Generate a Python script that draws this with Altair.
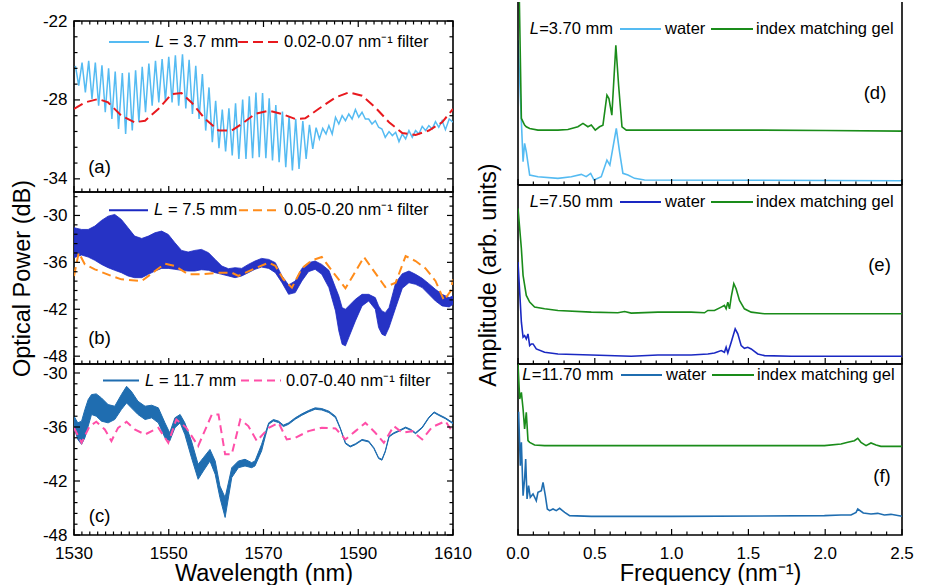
import altair as alt
import pandas as pd
import numpy as np

FONT = "Liberation Sans"
ONE = pd.DataFrame({"d": [0]})

# ---------------- panel (a) : L = 3.7 mm ----------------
lam_a = [1530.3, 1531.0, 1531.7, 1532.4, 1533.1, 1533.8, 1534.5, 1535.2, 1535.9, 1536.6,
         1537.3, 1538.0, 1538.7, 1539.4, 1540.2, 1540.9, 1541.6, 1542.3, 1543.0, 1543.7,
         1544.4, 1545.1, 1545.8, 1546.5, 1547.2, 1547.9, 1548.6, 1549.3, 1550.0, 1550.7,
         1551.4, 1552.1, 1552.9, 1553.6, 1554.3, 1555.0, 1555.7, 1556.4, 1557.1, 1557.8,
         1558.5, 1559.2, 1559.9, 1560.6, 1561.3, 1562.0, 1562.7, 1563.4, 1564.1, 1564.8,
         1565.6, 1566.3, 1567.0, 1567.7, 1568.4, 1569.1, 1569.8, 1570.5, 1571.2, 1571.9,
         1572.6, 1573.3, 1574.0, 1574.7, 1575.4, 1576.1, 1576.8, 1577.5, 1578.3, 1579.0,
         1579.7, 1580.4, 1581.1, 1581.8, 1582.5, 1583.2,
         1583.8, 1584.5, 1585.2, 1585.9, 1586.6, 1587.3, 1588.0, 1588.7, 1589.4, 1590.1,
         1590.8, 1591.5, 1592.2, 1592.9, 1593.6, 1594.3, 1595.0, 1595.7, 1596.5, 1597.2,
         1597.9, 1598.6, 1599.3, 1600.0, 1600.7, 1601.4, 1602.1, 1602.8, 1603.5, 1604.2,
         1604.9, 1605.6, 1606.3, 1607.0, 1607.7, 1608.4, 1609.2, 1610.0]
pow_a = [-25.41, -26.92, -25.16, -27.43, -25.03, -27.93, -25.16, -28.44, -25.36, -28.94,
         -25.59, -29.45, -25.84, -30.21, -25.96, -30.59, -25.91, -30.33, -25.74, -29.70,
         -25.48, -28.94, -25.23, -28.44, -25.03, -28.19, -24.90, -28.06, -24.73, -28.19,
         -24.60, -28.44, -24.53, -28.64, -24.95, -29.07, -25.41, -29.45, -26.04, -30.33,
         -27.05, -31.22, -28.06, -31.67, -28.74, -31.92, -28.64, -32.23, -28.26, -32.48,
         -27.98, -32.48, -27.73, -32.43, -27.43, -32.35, -27.48, -32.43, -27.88, -32.61,
         -28.39, -32.73, -28.89, -33.11, -29.25, -33.36, -29.45, -33.24, -29.60, -32.48,
         -29.90, -31.72, -30.11, -30.96, -30.16, -30.59,
         -29.95, -30.59, -29.32, -29.83, -29.20, -29.58, -29.07, -29.45, -28.74, -29.32,
         -28.94, -29.45, -29.45, -29.83, -29.58, -30.08, -30.21, -30.84, -30.41, -30.71,
         -30.46, -31.17, -30.59, -30.96, -30.33, -30.84, -30.33, -30.59, -30.01, -30.33,
         -29.95, -30.21, -29.65, -30.08, -29.58, -30.26, -29.45, -29.70]
lam_a_filt = [1530.0, 1532.3, 1535.1, 1537.2, 1540.0, 1542.8, 1545.0, 1547.8, 1550.6, 1552.7,
              1554.8, 1557.7, 1560.5, 1563.3, 1565.4, 1568.2, 1571.1, 1573.9, 1576.7, 1578.8,
              1581.6, 1585.2, 1588.0, 1590.8, 1593.6, 1596.5, 1599.3, 1602.1, 1604.9, 1607.7, 1610.0]
pow_a_filt = [-28.69, -28.19, -27.93, -28.19, -29.20, -29.70, -29.58, -28.69, -27.56, -27.48,
              -28.19, -29.45, -30.33, -30.33, -29.83, -29.07, -28.82, -29.07, -29.45, -29.40,
              -28.69, -27.81, -27.43, -27.68, -28.57, -29.70, -30.51, -30.66, -30.33, -29.70, -28.69]

# ---------------- panel (b) : L = 7.5 mm (dense fringes: envelope) ----------------
lam_b = [1530.0, 1531.6, 1533.0, 1534.4, 1535.8, 1537.2, 1538.6, 1540.0, 1541.4, 1542.8,
         1544.3, 1545.7, 1547.1, 1548.5, 1549.9, 1551.3, 1552.7, 1554.1, 1555.5, 1556.9,
         1558.4, 1559.8, 1561.2, 1562.6, 1564.0, 1565.4, 1566.8, 1568.2, 1569.6, 1571.1,
         1572.5, 1573.9, 1575.3, 1576.7, 1578.1, 1579.5, 1580.9, 1582.3, 1583.8, 1585.2,
         1585.9, 1586.6, 1587.3, 1588.0, 1589.4, 1590.8, 1592.2, 1593.6, 1594.3, 1595.0,
         1595.7, 1596.5, 1597.9, 1599.3, 1600.7, 1602.1, 1603.5, 1604.9, 1606.3, 1607.7,
         1609.2, 1610.0]
hi_b = [-31.57, -31.79, -31.79, -31.36, -30.64, -30.09, -29.87, -30.51, -31.57, -32.64,
        -32.94, -32.64, -32.21, -32.00, -32.43, -33.49, -34.47, -34.68, -34.47, -34.34,
        -34.77, -35.62, -36.47, -36.81, -36.68, -36.77, -36.26, -35.83, -35.49, -35.62,
        -36.04, -37.74, -38.89, -38.38, -36.77, -36.04, -35.83, -36.26, -37.02, -39.23,
        -40.30, -41.79, -42.00, -41.57, -40.72, -40.09, -40.09, -40.51, -41.57, -42.21,
        -42.43, -41.79, -38.60, -37.45, -37.11, -37.53, -38.04, -38.72, -39.45, -40.09,
        -40.51, -40.30]
lo_b = [-35.40, -35.06, -35.32, -35.74, -36.26, -36.68, -37.02, -37.32, -37.74, -37.96,
        -37.96, -37.53, -37.11, -36.77, -36.77, -36.89, -37.02, -37.11, -37.11, -36.94,
        -37.02, -37.32, -37.53, -37.74, -37.96, -37.74, -37.32, -36.89, -36.60, -36.77,
        -37.32, -38.60, -40.09, -39.87, -38.38, -37.19, -36.89, -37.53, -39.23, -42.21,
        -44.77, -46.47, -46.68, -45.62, -43.49, -41.57, -40.94, -42.00, -44.34, -45.19,
        -45.40, -44.34, -41.79, -39.32, -38.60, -38.81, -39.23, -40.09, -40.94, -41.57,
        -41.70, -41.36]
lam_b_filt = [1530.0, 1531.0, 1532.3, 1534.4, 1537.9, 1540.0, 1544.3, 1547.1, 1549.2, 1551.3,
              1554.1, 1556.9, 1560.5, 1563.3, 1564.7, 1568.2, 1571.1, 1572.5, 1574.2, 1576.0,
              1578.1, 1580.2, 1582.3, 1584.5, 1587.3, 1589.4, 1591.2, 1592.9, 1595.7, 1597.9,
              1600.0, 1602.1, 1604.2, 1606.3, 1608.1, 1609.5, 1610.0]
pow_b_filt = [-37.74, -34.77, -36.26, -36.89, -37.74, -38.17, -38.38, -37.11, -36.17, -36.47,
              -37.53, -37.53, -37.32, -37.32, -37.74, -36.77, -36.04, -36.43, -38.17, -39.23,
              -36.77, -35.74, -35.32, -37.11, -39.32, -37.19, -35.32, -36.77, -39.15, -38.60,
              -35.19, -35.83, -36.77, -38.38, -40.85, -39.66, -38.17]

# ---------------- panel (c) : L = 11.7 mm ----------------
lam_c = [1530.0, 1530.8, 1531.6, 1532.3, 1533.0, 1533.7, 1534.7, 1535.8, 1537.2, 1538.6,
         1540.0, 1541.1, 1542.1, 1543.5, 1545.0, 1546.4, 1547.8, 1549.2, 1550.2, 1551.3,
         1552.4, 1553.4, 1554.8, 1556.2, 1557.3, 1558.7, 1559.8, 1560.8, 1561.9, 1563.3,
         1564.7, 1566.1, 1567.5, 1568.2, 1569.6, 1570.4, 1571.1, 1572.1, 1573.2, 1574.2,
         1575.3, 1576.7, 1578.1, 1579.5, 1580.9, 1582.3, 1583.8, 1585.2, 1586.2, 1587.3,
         1588.3, 1589.4, 1590.8, 1592.2, 1593.3, 1594.3, 1595.0, 1595.7, 1596.5, 1597.5,
         1598.6, 1600.0, 1601.1, 1602.1, 1603.5, 1604.9, 1606.0, 1607.0, 1608.4, 1610.0]
hi_c = [-34.80, -35.54, -35.35, -34.06, -32.95, -32.40, -32.32, -32.77, -33.51, -33.69,
        -32.40, -31.48, -32.03, -33.14, -33.69, -33.58, -33.87, -35.54, -36.64, -34.98,
        -34.61, -35.54, -37.56, -40.15, -39.41, -38.49, -39.78, -42.55, -43.84, -40.52,
        -39.78, -39.59, -39.96, -39.78, -37.93, -36.64, -35.54, -35.17, -35.35, -35.79,
        -35.54, -34.98, -34.54, -34.17, -33.87, -33.95, -34.24, -34.80, -36.09, -37.75,
        -38.12, -37.86, -37.38, -37.56, -38.30, -39.41, -39.59, -38.67, -37.01, -36.64,
        -36.38, -36.01, -36.27, -36.64, -36.01, -34.91, -34.32, -34.61, -34.98, -35.54]
lo_c = [-36.09, -37.38, -37.93, -37.20, -35.90, -34.61, -34.80, -35.35, -35.54, -35.17,
        -34.06, -33.32, -33.87, -34.61, -35.17, -34.98, -35.54, -37.20, -37.56, -36.09,
        -35.54, -36.83, -39.41, -41.81, -40.89, -39.78, -41.25, -43.84, -46.05, -41.62,
        -40.52, -40.33, -40.52, -40.33, -38.67, -37.01, -35.70, -35.33, -35.51, -35.95,
        -35.70, -35.14, -34.70, -34.33, -34.03, -34.11, -34.40, -34.96, -36.19, -37.85,
        -38.22, -37.96, -37.48, -37.66, -38.40, -39.51, -39.69, -38.77, -37.11, -36.74,
        -36.48, -36.11, -36.37, -36.74, -36.11, -35.01, -34.42, -34.71, -35.08, -35.64]
lam_c_filt = [1530.0, 1531.6, 1533.3, 1534.7, 1536.5, 1537.9, 1539.3, 1541.1, 1542.8, 1545.0,
              1547.8, 1549.9, 1551.6, 1553.7, 1556.2, 1559.1, 1560.5, 1561.9, 1563.3, 1565.1,
              1566.8, 1568.6, 1571.1, 1573.2, 1574.9, 1576.7, 1579.5, 1582.3, 1585.2, 1587.3,
              1589.4, 1591.5, 1593.6, 1595.4, 1597.5, 1599.3, 1601.4, 1603.5, 1605.6, 1608.4, 1610.0]
pow_c_filt = [-36.09, -37.75, -35.90, -35.42, -36.27, -37.56, -36.09, -35.42, -36.27, -36.83,
              -36.09, -37.75, -35.17, -36.09, -38.12, -34.61, -34.61, -39.04, -39.04, -35.17,
              -35.90, -37.56, -36.09, -35.54, -37.38, -37.20, -36.46, -36.09, -36.16, -37.38,
              -36.46, -35.54, -36.64, -37.75, -35.90, -36.64, -36.46, -37.38, -36.01, -35.35, -36.64]

# ---------------- panel (d) : FFT, L = 3.70 mm ----------------
f_d_gel = [0.009, 0.022, 0.043, 0.054, 0.076, 0.130, 0.260, 0.325, 0.390, 0.423, 0.455, 0.477,
           0.503, 0.531, 0.553, 0.579, 0.592, 0.611, 0.637, 0.655, 0.677, 0.705, 1.0, 1.5, 2.0, 2.5]
a_d_gel = [55.0, 20.0, 18.0, 17.5, 17.0, 16.5, 16.5, 16.7, 17.5, 18.5, 17.5, 18.0,
           16.5, 17.5, 18.0, 27.0, 26.0, 21.0, 42.0, 30.0, 17.5, 16.5, 16.5, 16.5, 16.4, 16.2]
f_d_wat = [0.0, 0.033, 0.043, 0.054, 0.076, 0.130, 0.260, 0.347, 0.412, 0.444, 0.473, 0.495,
           0.542, 0.579, 0.598, 0.640, 0.661, 0.683, 0.716, 0.759, 0.824, 2.5]
a_d_wat = [43.5, 7.0, 12.5, 10.0, 3.0, 2.5, 2.0, 2.5, 3.2, 2.5, 3.5, 1.5,
           2.5, 7.5, 6.0, 17.0, 10.0, 3.5, 3.0, 2.0, 1.5, 1.3]

# ---------------- panel (e) : FFT, L = 7.50 mm ----------------
f_e_gel = [0.0, 0.022, 0.033, 0.054, 0.076, 0.108, 0.173, 0.260, 0.477, 0.650, 0.694, 0.737,
           0.911, 1.127, 1.214, 1.236, 1.279, 1.323, 1.344, 1.355, 1.366, 1.377, 1.388, 1.405,
           1.420, 1.442, 1.474, 1.518, 1.605, 2.5]
a_e_gel = [46.5, 34.5, 26.5, 20.5, 18.5, 17.0, 16.5, 16.0, 15.5, 15.3, 15.7, 15.2,
           15.5, 15.5, 15.3, 16.0, 16.0, 17.0, 17.5, 16.5, 18.5, 16.5, 20.0, 24.0,
           22.5, 19.0, 16.5, 15.5, 15.0, 15.0]
f_e_wat = [0.0, 0.011, 0.022, 0.033, 0.043, 0.054, 0.065, 0.076, 0.087, 0.098, 0.119, 0.173,
           0.260, 0.477, 0.737, 0.911, 1.127, 1.236, 1.279, 1.323, 1.344, 1.355, 1.366, 1.388,
           1.414, 1.431, 1.453, 1.474, 1.496, 1.518, 1.561, 1.605, 1.778, 2.5]
a_e_wat = [30.5, 21.5, 12.5, 8.0, 8.5, 7.5, 9.0, 5.5, 6.0, 6.0, 4.5, 3.5,
           3.0, 2.7, 2.3, 2.7, 2.7, 3.0, 3.3, 4.0, 3.5, 5.0, 3.3, 6.5,
           10.5, 9.0, 5.5, 4.7, 5.0, 4.5, 3.0, 2.5, 2.3, 2.3]

# ---------------- panel (f) : FFT, L = 11.70 mm ----------------
f_f_gel = [0.0, 0.011, 0.022, 0.033, 0.043, 0.054, 0.065, 0.076, 0.108, 0.173, 1.0, 1.995,
           2.103, 2.147, 2.190, 2.212, 2.233, 2.266, 2.298, 2.331, 2.363, 2.5]
a_f_gel = [51.3, 40.8, 42.8, 37.8, 31.8, 36.8, 28.3, 27.8, 27.0, 26.8, 26.8, 26.8,
           27.3, 27.8, 28.3, 29.0, 27.8, 26.8, 27.6, 27.0, 26.6, 26.6]
f_f_wat = [0.004, 0.015, 0.022, 0.033, 0.043, 0.050, 0.059, 0.069, 0.080, 0.098, 0.119, 0.130,
           0.152, 0.163, 0.178, 0.191, 0.206, 0.228, 0.249, 0.271, 0.304, 0.336, 0.477, 1.0,
           1.995, 2.103, 2.168, 2.201, 2.212, 2.248, 2.298, 2.342, 2.385, 2.428, 2.5]
a_f_wat = [37.0, 20.8, 27.8, 11.8, 16.8, 22.8, 10.8, 14.8, 11.3, 12.3, 10.3, 12.8,
           13.3, 15.8, 11.8, 7.8, 7.3, 7.8, 7.3, 8.0, 6.8, 5.8, 5.6, 5.6,
           5.8, 6.0, 6.0, 6.8, 7.8, 6.6, 6.3, 6.5, 6.0, 6.2, 5.6]

# ---------------- axis ticks and tick labels ----------------
wl_major = [1530, 1550, 1570, 1590, 1610]
wl_labels = ["1530", "1550", "1570", "1590", "1610"]
fr_major = [0.0, 0.5, 1.0, 1.5, 2.0, 2.5]
fr_labels = ["0.0", "0.5", "1.0", "1.5", "2.0", "2.5"]
ya_major = [-22, -28, -34]
yb_major = [-30, -36, -42, -48]
yc_major = [-30, -36, -42, -48]

# colours
C_A, C_A2 = "#55BBF2", "#E8191E"
C_B, C_B2 = "#1A28C2", "#FF8C1A"
C_C, C_C2 = "#1F6DB0", "#FF4FA8"
C_GEL = "#1A8C1A"

WL, WR = 379, 384
HA, HB, HC = 171, 172, 171
HD, HE, HF = 183, 179, 171
TOPGAP = 19
TMAJ, TMIN = 6, 3.5


def txt(s, x, y, size=16.5, italic=False, align="left"):
    return alt.Chart(ONE).mark_text(
        text=s, font=FONT, fontSize=size, fontStyle="italic" if italic else "normal",
        align=align, baseline="middle", color="black"
    ).encode(x=alt.value(x), y=alt.value(y))


def seg(x1, x2, y, color, width, dash=None):
    kw = dict(color=color, strokeWidth=width)
    if dash is not None:
        kw["strokeDash"] = dash
    return alt.Chart(ONE).mark_rule(**kw).encode(x=alt.value(x1), x2=alt.value(x2), y=alt.value(y))


def vseg(x, y1, y2, color, width):
    return alt.Chart(ONE).mark_rule(color=color, strokeWidth=width).encode(
        x=alt.value(x), y=alt.value(y1), y2=alt.value(y2))


def line(xs, ys, X, Y, color, width, dash=None):
    kw = dict(color=color, strokeWidth=width, clip=True)
    if dash is not None:
        kw["strokeDash"] = dash
    return alt.Chart(pd.DataFrame({"x": xs, "y": ys})).mark_line(**kw).encode(x=X, y=Y)


def band(xs, lo, hi, X, Y, color, width, op=1.0):
    df = pd.DataFrame({"x": xs, "y": lo, "y2": hi})
    return alt.Chart(df).mark_area(
        color=color, stroke=color, strokeWidth=width, fillOpacity=op, clip=True
    ).encode(x=X, y=Y, y2=alt.Y2("y2"))


def xlabels(vals, labs, X, H):
    df = pd.DataFrame({"x": vals, "lab": labs})
    return alt.Chart(df).mark_text(
        font=FONT, fontSize=17, color="black", align="center", baseline="middle"
    ).encode(x=X, y=alt.value(H + 19), text="lab:N")


def xticks(vals, X, H, L, top=False):
    df = pd.DataFrame({"x": vals})
    out = [alt.Chart(df).mark_rule(color="black", strokeWidth=1.2).encode(
        x=X, y=alt.value(H), y2=alt.value(H - L))]
    if top:
        out.append(alt.Chart(df).mark_rule(color="black", strokeWidth=1.2).encode(
            x=X, y=alt.value(0), y2=alt.value(L)))
    return out


def yticks(vals, Y, W, L):
    df = pd.DataFrame({"y": vals})
    return [
        alt.Chart(df).mark_rule(color="black", strokeWidth=1.2).encode(y=Y, x=alt.value(0), x2=alt.value(L)),
        alt.Chart(df).mark_rule(color="black", strokeWidth=1.2).encode(y=Y, x=alt.value(W), x2=alt.value(W - L)),
    ]


wl_minor = [v for v in np.round(np.arange(1530, 1610.001, 20 / 12), 3) if round(v, 3) not in wl_major]
fr_minor = [v for v in np.round(np.arange(0, 2.5001, 0.1), 2) if v not in fr_major]


def ymin(dom, start):
    vals = []
    v = start
    while v >= dom[0] - 1e-6:
        if v <= dom[1] + 1e-6:
            vals.append(round(v, 2))
        v -= 1.2
    return vals


AX = dict(labelFont=FONT, titleFont=FONT, labelFontSize=17, titleFontSize=23.5,
          labelColor="black", titleColor="black", titleFontWeight="normal",
          ticks=False, domain=False, grid=False, tickSize=0, labelFlush=False,
          labelOverlap=False)


def left_panel(H, ydom, ymaj, ymin_start, layers_fn, legend, label, lab_y, xlab=False, ytitle="", top=False):
    if xlab:
        xax = alt.Axis(values=wl_major, labels=False, title="Wavelength (nm)", titlePadding=26, **AX)
        X = alt.X("x:Q", scale=alt.Scale(domain=[1530, 1610], nice=False, zero=False), axis=xax)
    else:
        X = alt.X("x:Q", scale=alt.Scale(domain=[1530, 1610], nice=False, zero=False), axis=None)
    yax = alt.Axis(values=ymaj, labelExpr="datum.value + ''", labelPadding=7, title=ytitle,
                   labelBaseline="middle", titlePadding=8, **AX)
    Y = alt.Y("y:Q", scale=alt.Scale(domain=ydom, nice=False, zero=False), axis=yax)
    ys_min = [v for v in ymin(ydom, ymin_start) if v not in ymaj]
    layers = layers_fn(X, Y)
    layers += xticks(wl_major, X, H, TMAJ, top) + xticks(wl_minor, X, H, TMIN, top)
    layers += yticks(ymaj, Y, WL, TMAJ) + yticks(ys_min, Y, WL, TMIN)
    layers += legend + [txt(label, 25.5, lab_y, size=18.5, align="center")]
    if xlab:
        layers.append(xlabels(wl_major, wl_labels, X, H))
    return alt.layer(*layers).properties(width=WL, height=H)


def right_panel(H, ytop, layers_fn, legend, label, lx, ly, xlab=False, ytitle=None, open_top=False):
    if xlab:
        xax = alt.Axis(values=fr_major, labels=False, title="Frequency (nm\u207b\u00b9)",
                       titlePadding=26, **AX)
        X = alt.X("x:Q", scale=alt.Scale(domain=[0, 2.5], nice=False, zero=False), axis=xax)
    else:
        X = alt.X("x:Q", scale=alt.Scale(domain=[0, 2.5], nice=False, zero=False), axis=None)
    if ytitle:
        yax = alt.Axis(labels=False, title=ytitle, titlePadding=18, **AX)
        Y = alt.Y("y:Q", scale=alt.Scale(domain=[0, ytop], nice=False, zero=False), axis=yax)
    else:
        Y = alt.Y("y:Q", scale=alt.Scale(domain=[0, ytop], nice=False, zero=False), axis=None)
    layers = layers_fn(X, Y)
    layers += xticks(fr_major, X, H, TMAJ) + xticks(fr_minor, X, H, TMIN)
    layers += legend + [txt(label, lx, ly, size=18.5, align="center")]
    if xlab:
        layers.append(xlabels(fr_major, fr_labels, X, H))
    if open_top:
        layers += [vseg(0, 0, H, "black", 1.6), vseg(WR, 0, H, "black", 1.6),
                   seg(0, WR, H, "black", 1.6)]
        return alt.layer(*layers).properties(
            width=WR, height=H, view=alt.ViewBackground(stroke="transparent"))
    return alt.layer(*layers).properties(width=WR, height=H)


def leg_left(y, lx1, lx2, tx, name, color, dx1, dx2, ftx, ftext, fcolor, dash):
    return [
        seg(lx1, lx2, y, color, 2),
        txt("L", tx, y, italic=True),
        txt(name, tx + 14, y),
        seg(dx1, dx2, y, fcolor, 2, dash),
        txt(ftext, ftx, y),
    ]


def leg_right(y, lx, lname, wcolor, wx1):
    return [
        txt("L", lx, y, italic=True),
        txt(lname, lx + 9.5, y),
        seg(wx1, wx1 + 41, y, wcolor, 2),
        txt("water", wx1 + 45, y),
        seg(wx1 + 91, wx1 + 133, y, C_GEL, 2),
        txt("index matching gel", wx1 + 136, y),
    ]


spacer = alt.Chart(ONE).mark_point(opacity=0, size=1).encode(
    x=alt.value(10), y=alt.value(10)
).properties(width=WL, height=TOPGAP, view=alt.ViewBackground(stroke="transparent"))

pa = left_panel(
    HA, [-35, -22], ya_major, -22,
    lambda X, Y: [line(lam_a, pow_a, X, Y, C_A, 1.5),
                  line(lam_a_filt, pow_a_filt, X, Y, C_A2, 2, [10, 5])],
    leg_left(21, 35, 75, 81, "= 3.7 mm", C_A, 164, 204, 210, "0.02-0.07 nm\u207b\u00b9 filter", C_A2, [10, 5]),
    "(a)", 146, top=True)
pb = left_panel(
    HB, [-49, -27], yb_major, -27.6,
    lambda X, Y: [band(lam_b, lo_b, hi_b, X, Y, C_B, 0.8, 0.95),
                  line(lam_b_filt, pow_b_filt, X, Y, C_B2, 2, [9, 5])],
    leg_left(18.3, 35, 74, 80, "= 7.5 mm", C_B, 165, 204, 210, "0.05-0.20 nm\u207b\u00b9 filter", C_B2, [9, 5]),
    "(b)", 146, ytitle="Optical Power (dB)")
pc = left_panel(
    HC, [-48, -29], yc_major, -30,
    lambda X, Y: [band(lam_c, lo_c, hi_c, X, Y, C_C, 1.0),
                  line(lam_c_filt, pow_c_filt, X, Y, C_C2, 2, [8, 5])],
    leg_left(16.6, 29, 65, 71, "= 11.7 mm", C_C, 167, 207, 212, "0.07-0.40 nm\u207b\u00b9 filter", C_C2, [8, 5]),
    "(c)", 151.5, xlab=True)

pd_ = right_panel(
    HD, 55.0,
    lambda X, Y: [line(f_d_wat, a_d_wat, X, Y, C_A, 1.6), line(f_d_gel, a_d_gel, X, Y, C_GEL, 1.6)],
    leg_right(27, 11.7, "=3.70 mm", C_A, 102), "(d)", 357, 90.5, open_top=True)
pe = right_panel(
    HE, 53.5,
    lambda X, Y: [line(f_e_wat, a_e_wat, X, Y, C_B, 1.6), line(f_e_gel, a_e_gel, X, Y, C_GEL, 1.6)],
    leg_right(17, 11.7, "=7.50 mm", C_B, 102), "(e)", 361.5, 79.5, ytitle="Amplitude (arb. units)")
pf = right_panel(
    HF, 51.3,
    lambda X, Y: [line(f_f_wat, a_f_wat, X, Y, C_C, 1.6), line(f_f_gel, a_f_gel, X, Y, C_GEL, 1.6)],
    leg_right(11, 4.3, "=11.70 mm", C_C, 103), "(f)", 364, 111.8, xlab=True)

left = alt.vconcat(spacer, pa, pb, pc, spacing=0, bounds="flush").resolve_scale(
    x="independent", y="independent")
right = alt.vconcat(pd_, pe, pf, spacing=0, bounds="flush").resolve_scale(
    x="independent", y="independent")

chart = alt.hconcat(left, right, spacing=2).resolve_scale(
    x="independent", y="independent"
).properties(
    padding={"left": 9, "top": 0, "right": 0, "bottom": 0}, background="white"
).configure_view(
    stroke="black", strokeWidth=1.6
).configure_axis(
    labelFont=FONT, titleFont=FONT, labelFontSize=17, titleFontSize=23.5,
    labelColor="black", titleColor="black", titleFontWeight="normal", grid=False
)

chart.save("out.html", embed_options={"renderer": "svg", "actions": False})
